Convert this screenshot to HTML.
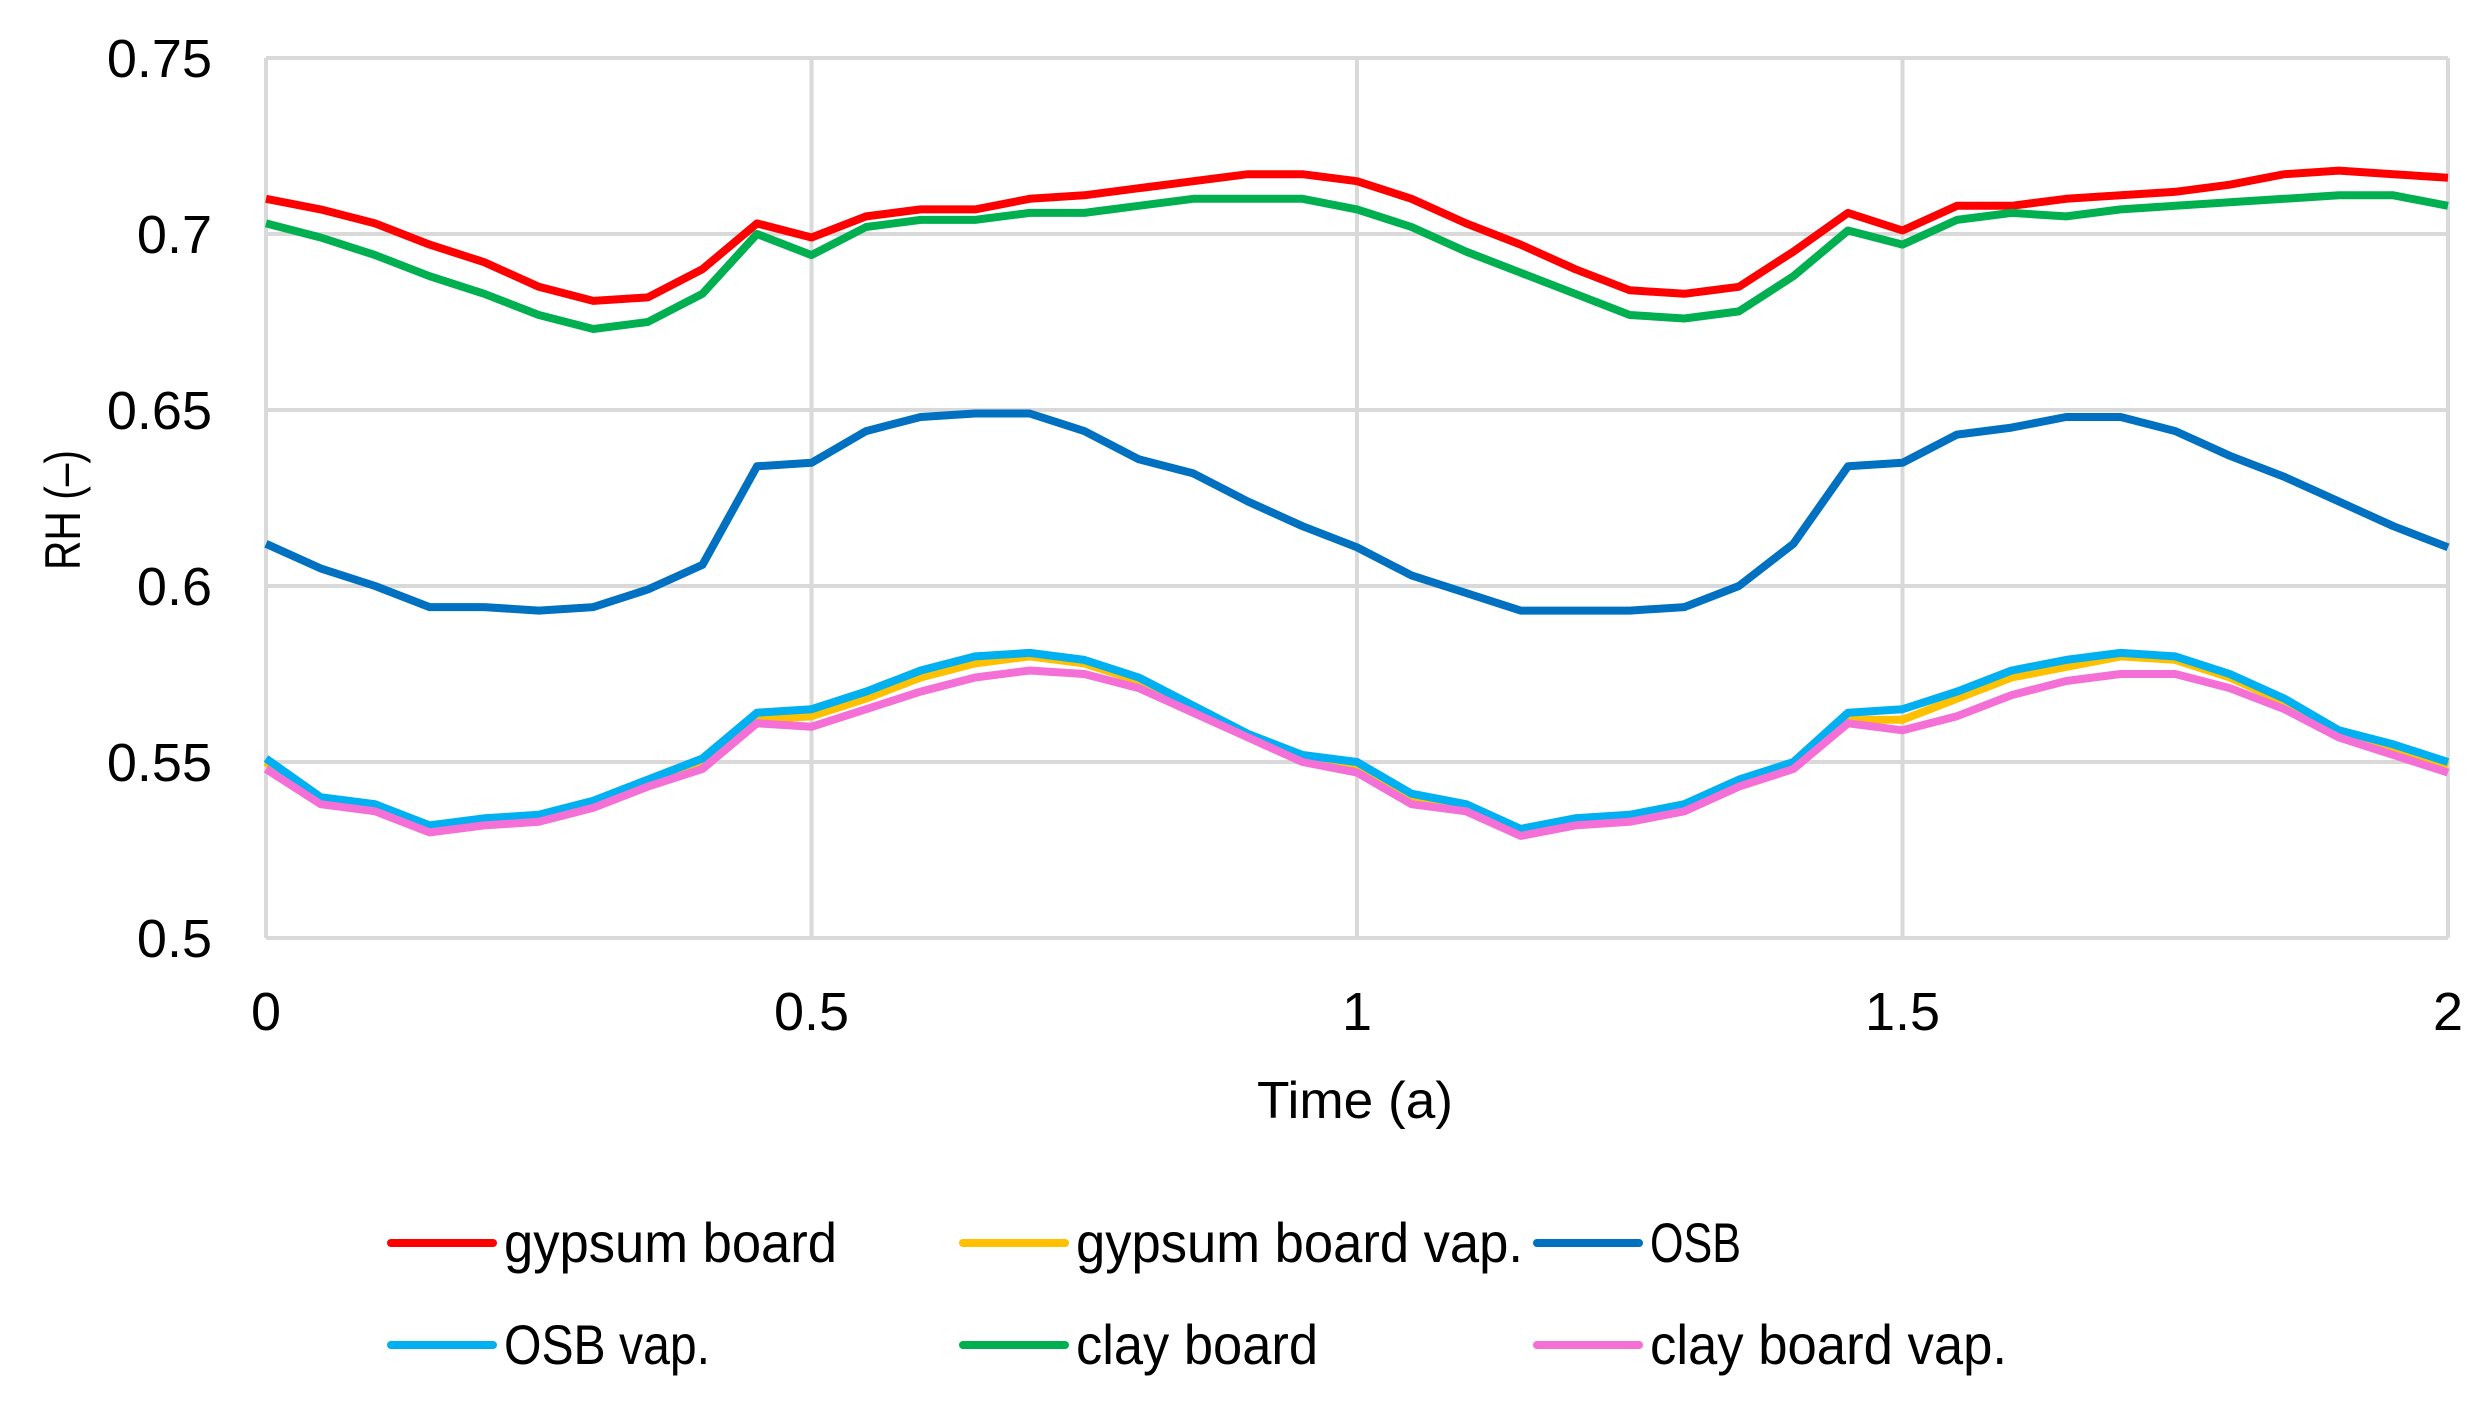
<!DOCTYPE html>
<html><head><meta charset="utf-8"><style>
html,body{margin:0;padding:0;background:#fff;}
svg{display:block;font-family:"Liberation Sans",sans-serif;}
</style></head><body>
<svg id="chart" width="2491" height="1419" viewBox="0 0 2491 1419" xmlns="http://www.w3.org/2000/svg">
<g id="grid"></g>
<g id="series"></g>
<g id="axes"></g>
<text x="1355" y="1118" font-size="52" text-anchor="middle" textLength="196" lengthAdjust="spacingAndGlyphs">Time (a)</text>
<text transform="translate(80,510) rotate(-90)" font-size="50" text-anchor="middle" textLength="120" lengthAdjust="spacingAndGlyphs">RH (–)</text>
<g id="legend"></g>
</svg>
<script>
const xTicks = [0, 0.5, 1, 1.5, 2];
const xTickLabels = ["0", "0.5", "1", "1.5", "2"];
const yTicks = [0.5, 0.55, 0.6, 0.65, 0.7, 0.75];
const yTickLabels = ["0.5", "0.55", "0.6", "0.65", "0.7", "0.75"];
const times = [0,0.05,0.1,0.15,0.2,0.25,0.3,0.35,0.4,0.45,0.5,0.55,0.6,0.65,0.7,0.75,0.8,0.85,0.9,0.95,1.0,1.05,1.1,1.15,1.2,1.25,1.3,1.35,1.4,1.45,1.5,1.55,1.6,1.65,1.7,1.75,1.8,1.85,1.9,1.95,2.0];
const gypsum = [0.710,0.707,0.703,0.697,0.692,0.685,0.681,0.682,0.690,0.703,0.699,0.705,0.707,0.707,0.710,0.711,0.713,0.715,0.717,0.717,0.715,0.710,0.703,0.697,0.690,0.684,0.683,0.685,0.695,0.706,0.701,0.708,0.708,0.710,0.711,0.712,0.714,0.717,0.718,0.717,0.716];
const osbVap = [0.551,0.540,0.538,0.532,0.534,0.535,0.539,0.545,0.551,0.564,0.565,0.570,0.576,0.580,0.581,0.579,0.574,0.566,0.558,0.552,0.550,0.541,0.538,0.531,0.534,0.535,0.538,0.545,0.550,0.564,0.565,0.570,0.576,0.579,0.581,0.580,0.575,0.568,0.559,0.555,0.550];
const gypsumVap = [0.550,0.539,0.537,0.531,0.533,0.534,0.538,0.544,0.550,0.562,0.563,0.568,0.574,0.578,0.580,0.578,0.573,0.565,0.557,0.551,0.549,0.540,0.537,0.530,0.533,0.534,0.537,0.544,0.549,0.562,0.562,0.568,0.574,0.577,0.580,0.579,0.574,0.567,0.558,0.554,0.549];
const osb = [0.612,0.605,0.600,0.594,0.594,0.593,0.594,0.599,0.606,0.634,0.635,0.644,0.648,0.649,0.649,0.644,0.636,0.632,0.624,0.617,0.611,0.603,0.598,0.593,0.593,0.593,0.594,0.600,0.612,0.634,0.635,0.643,0.645,0.648,0.648,0.644,0.637,0.631,0.624,0.617,0.611];
const clay = [0.703,0.699,0.694,0.688,0.683,0.677,0.673,0.675,0.683,0.700,0.694,0.702,0.704,0.704,0.706,0.706,0.708,0.710,0.710,0.710,0.707,0.702,0.695,0.689,0.683,0.677,0.676,0.678,0.688,0.701,0.697,0.704,0.706,0.705,0.707,0.708,0.709,0.710,0.711,0.711,0.708];
const clayVap = [0.548,0.538,0.536,0.530,0.532,0.533,0.537,0.543,0.548,0.561,0.560,0.565,0.570,0.574,0.576,0.575,0.571,0.564,0.557,0.550,0.547,0.538,0.536,0.529,0.532,0.533,0.536,0.543,0.548,0.561,0.559,0.563,0.569,0.573,0.575,0.575,0.571,0.565,0.557,0.552,0.547];
const seriesNames = ["gypsum board","gypsum board vap.","OSB","OSB vap.","clay board","clay board vap."];

const NS = "http://www.w3.org/2000/svg";
const L = 266, R = 2448, T = 58, B = 938;
const xS = v => L + (v - 0) / 2 * (R - L);
const yS = v => B - (v - 0.5) / 0.25 * (B - T);
function mk(tag, attrs, parent){const e=document.createElementNS(NS,tag);for(const k in attrs)e.setAttribute(k,attrs[k]);parent.appendChild(e);return e;}

const grid = document.getElementById('grid');
const axes = document.getElementById('axes');
yTicks.forEach((v,i)=>{
  const ln = mk('line',{x1:L,x2:R,y1:yS(v),y2:yS(v),stroke:'#d9d9d9','stroke-width':4},grid);
  
  
  const t = mk('text',{x:212,y:yS(v)+19,'font-size':54,'text-anchor':'end'},axes);
  t.textContent = yTickLabels[i];
  
  
});
xTicks.forEach((v,i)=>{
  const ln = mk('line',{x1:xS(v),x2:xS(v),y1:T,y2:B,stroke:'#d9d9d9','stroke-width':4},grid);
  
  
  const t = mk('text',{x:xS(v),y:1030,'font-size':54,'text-anchor':'middle'},axes);
  t.textContent = xTickLabels[i];
  
  
});

const colors = ["#ff0000","#ffc000","#0070c0","#00b0f0","#00b050","#f46fd6"];
const data = [gypsum, gypsumVap, osb, osbVap, clay, clayVap];
const order = [0,1,2,3,4,5];
const sg = document.getElementById('series');
order.forEach(i=>{
  const vals = data[i];
  let d = '';
  vals.forEach((v,j)=>{ d += (j?'L':'M') + xS(times[j]).toFixed(1) + ',' + yS(v).toFixed(1); });
  const p = mk('path',{d:d,fill:'none',stroke:colors[i],'stroke-width':8,'stroke-linejoin':'round'},sg);
  
  
});

const lg = document.getElementById('legend');
const legX = [391, 963, 1537];
const legY = [1243, 1345];
const legW = [333, 447, 91, 206, 242, 357];
seriesNames.forEach((n,i)=>{
  const cx = legX[i%3], cy = legY[Math.floor(i/3)];
  const ln = mk('line',{x1:cx,x2:cx+102,y1:cy,y2:cy,stroke:colors[i],'stroke-width':8,'stroke-linecap':'round'},lg);
  
  
  const t = mk('text',{x:cx+113,y:cy+19,'font-size':56,textLength:legW[i],lengthAdjust:'spacingAndGlyphs'},lg);
  t.textContent = n;
  
  
});
</script>
</body></html>
